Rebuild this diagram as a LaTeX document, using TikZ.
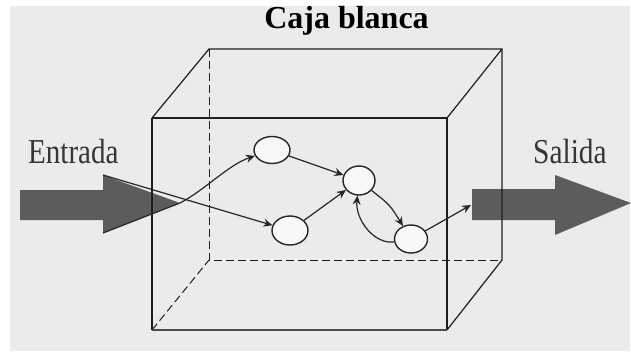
\documentclass[tikz,border=0pt]{standalone}
\usepackage{fontspec}
\usepackage{graphicx}
\setmainfont{Liberation Serif}
\usetikzlibrary{arrows.meta,shapes.geometric}
\definecolor{bg}{HTML}{EBEBEB}
\definecolor{bigarrowc}{HTML}{5C5C5C}
\definecolor{edgec}{HTML}{1E1E1E}
\definecolor{connc}{HTML}{262626}
\definecolor{nodefillc}{HTML}{F8F8F8}
\definecolor{txtc}{HTML}{363636}
\begin{document}
\begin{tikzpicture}[x=1pt,y=-1pt,
  boxline/.style={draw=edgec,line width=1.2pt},
  hiddenline/.style={draw=edgec,line width=1pt,dash pattern=on 8pt off 4pt},
  state/.style={ellipse,draw=connc,line width=1.4pt,fill=nodefillc,inner sep=0pt},
  flow/.style={draw=connc,line width=1.2pt,-{Stealth[length=9pt,width=8pt]}},
  bigarrow/.style={fill=bigarrowc,draw=none},
  sidelabel/.style={font=\fontsize{35}{35}\selectfont,text=txtc,inner sep=0pt,anchor=base west},
  titlelabel/.style={font=\bfseries\fontsize{32}{32}\selectfont,text=black,inner sep=0pt,anchor=base}]

% canvas
\fill[white] (0,0) rectangle (631,351);
\fill[bg] (10,6) rectangle (630,351);
\useasboundingbox (0,0) rectangle (631,351);

% title and labels
\node[titlelabel] (title) at (346.5,28) {Caja blanca};
\node[sidelabel] (entrada) at (28,163) {\scalebox{0.83}[1]{Entrada}};
\node[sidelabel] (salida) at (533,163) {\scalebox{0.84}[1]{Salida}};

% big arrows
\coordinate (inTop) at (103,175);
\coordinate (inBot) at (103,233);
\coordinate (inTip) at (180,203);
\fill[bigarrow] (20,190) -- (103,190) -- (inTop) -- (inTip) -- (inBot) -- (103,220) -- (20,220) -- cycle;
\fill[bigarrow] (472,189) -- (555,189) -- (555,175) -- (631,203) -- (555,235) -- (555,220) -- (472,220) -- cycle;

% cube corners
\coordinate (fTL) at (152,118);
\coordinate (fTR) at (447,118);
\coordinate (fBR) at (447,330);
\coordinate (fBL) at (152,330);
\coordinate (bTL) at (209,49);
\coordinate (bTR) at (502,49);
\coordinate (bBR) at (502,260);
\coordinate (bBL) at (209,260);

% hidden edges
\draw[hiddenline] (bTL) -- (bBL) -- (bBR);
\draw[hiddenline] (fBL) -- (bBL);
% visible edges
\draw[boxline] (fTL) -- (bTL) -- (bTR) -- (bBR);
\draw[boxline] (fTR) -- (bTR);
\draw[boxline] (fBR) -- (bBR);
\draw[boxline] (fTL) -- (fTR) -- (fBR);
\draw[boxline] (fTL) -- (fBL);
\draw[draw=edgec!80,line width=2pt] (fBL) -- (fBR);

% states
\node[state,minimum width=36pt,minimum height=27pt] (A) at (272,150) {};
\node[state,minimum width=32pt,minimum height=29pt] (B) at (359,180.5) {};
\node[state,minimum width=36pt,minimum height=29pt] (C) at (290,230.5) {};
\node[state,minimum width=33pt,minimum height=28pt] (D) at (411,239) {};
\coordinate (outIn) at (471,205);

% connectors
\draw[flow] (inTop) -- (C);
\draw[flow] (inBot) -- (inTip) .. controls (205,190) and (228,165) .. (A);
\draw[flow] (A) -- (B);
\draw[flow] (C) -- (B);
\draw[flow] (B) .. controls (390,205) .. (D);
\draw[flow] (D) .. controls (375,245) and (355,220) .. (B);
\draw[flow] (D) -- (outIn);
\end{tikzpicture}
\end{document}
